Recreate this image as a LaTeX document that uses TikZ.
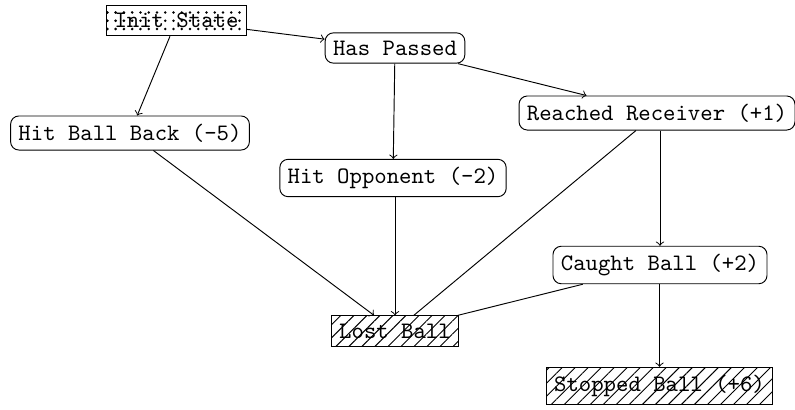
\documentclass[tikz,border=0pt]{standalone}
\usetikzlibrary{patterns,patterns.meta}
\begin{document}
\begin{tikzpicture}[x=0.4237pt,y=-0.4237pt,
  every node/.style={font=\ttfamily},
  state/.style={draw,rounded corners=3.5pt},
  startstate/.style={draw,pattern={Dots[distance=3.5pt,radius=0.6pt]}},
  endstate/.style={draw,pattern={Lines[angle=45,distance=3.9pt]}},
  edge/.style={->},
  plain/.style={-}]
\useasboundingbox (0,0) rectangle (795,409);
\node[startstate] (init) at (176.5,20.5) {Init State};
\node[state] (passed) at (395,48) {Has Passed};
\node[state] (reached) at (657,113) {Reached Receiver (+1)};
\node[state] (hitback) at (130,133) {Hit Ball Back (-5)};
\node[state] (hitopp) at (393,178) {Hit Opponent (-2)};
\node[state] (caught) at (660,265) {Caught Ball (+2)};
\node[endstate] (lost) at (395,331) {Lost Ball};
\node[endstate] (stopped) at (659.5,386) {Stopped Ball (+6)};
\draw[edge] (init) -- (passed);
\draw[edge] (init) -- (hitback);
\draw[edge] (passed) -- (hitopp);
\draw[edge] (passed) -- (reached);
\draw[edge] (hitback) -- (lost);
\draw[edge] (hitopp.south -| lost.north) -- (lost.north);
\draw[plain] (reached) -- (lost);
\draw[edge] (reached.south -| caught.north) -- (caught.north);
\draw[plain] (caught) -- (lost);
\draw[edge] (caught.south -| stopped.north) -- (stopped.north);
\end{tikzpicture}
\end{document}
